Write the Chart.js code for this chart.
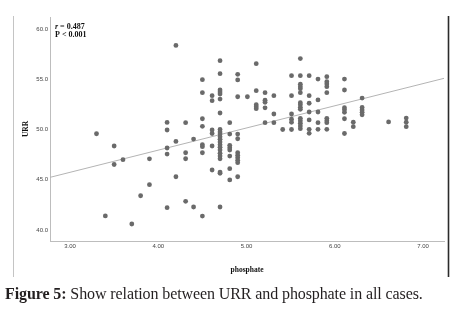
<!DOCTYPE html>
<html>
<head>
<meta charset="utf-8">
<script src="https://cdn.jsdelivr.net/npm/chart.js@4.4.1/dist/chart.umd.min.js"></script>
<style>
html,body{margin:0;padding:0;background:#fff;}
#wrap{position:relative;width:456px;height:322px;overflow:hidden;}
#c{position:absolute;left:0;top:0;}
#cap{position:absolute;left:5px;top:285px;font-family:"Liberation Serif","DejaVu Serif",serif;font-size:16px;letter-spacing:-0.1px;color:#231f20;white-space:nowrap;}
#cap b{font-weight:bold;}
</style>
</head>
<body>
<div id="wrap">
<canvas id="c" width="456" height="322"></canvas>
<div id="cap"><b>Figure 5:</b> Show relation between URR and phosphate in all cases.</div>
</div>
<script>
// ---- data ----
const phosphate = [
 3.30, 3.40, 3.50, 3.50, 3.60, 3.70, 3.80, 3.90, 3.90,
 4.10, 4.10, 4.10, 4.10, 4.10,
 4.20, 4.20, 4.20,
 4.31, 4.31, 4.31, 4.31,
 4.40, 4.40,
 4.50, 4.50, 4.50, 4.50, 4.50, 4.50, 4.50, 4.50,
 4.61, 4.61, 4.61, 4.61, 4.61, 4.61,
 4.70, 4.70, 4.70, 4.70, 4.70, 4.70, 4.70, 4.70, 4.70, 4.70, 4.70,
 4.70, 4.70, 4.70, 4.70, 4.70, 4.70, 4.70, 4.70, 4.70, 4.70, 4.70,
 4.81, 4.81, 4.81, 4.81, 4.81, 4.81, 4.81, 4.81,
 4.90, 4.90, 4.90, 4.90, 4.90, 4.90, 4.90, 4.90, 4.90, 4.90, 4.90,
 5.01,
 5.11, 5.11, 5.11, 5.11, 5.11,
 5.21, 5.21, 5.21, 5.21, 5.21,
 5.31, 5.31, 5.31,
 5.41,
 5.51, 5.51, 5.51, 5.51, 5.51, 5.51,
 5.61, 5.61, 5.61, 5.61, 5.61, 5.61, 5.61, 5.61, 5.61, 5.61, 5.61, 5.61, 5.61, 5.61, 5.61,
 5.71, 5.71, 5.71, 5.71, 5.71, 5.71, 5.71,
 5.81, 5.81, 5.81, 5.81, 5.81,
 5.91, 5.91, 5.91, 5.91, 5.91, 5.91, 5.91, 5.91, 5.91,
 6.11, 6.11, 6.11, 6.11, 6.11, 6.11, 6.11,
 6.21, 6.21,
 6.31, 6.31, 6.31, 6.31, 6.31,
 6.61,
 6.81, 6.81, 6.81
];
const urr = [
 49.58, 41.40, 48.36, 46.52, 47.00, 40.60, 43.41, 47.08, 44.51,
 50.70, 49.95, 48.16, 47.56, 42.22,
 58.36, 48.81, 45.30,
 50.68, 47.69, 47.09, 42.86,
 49.05, 42.29,
 54.96, 53.66, 51.07, 50.32, 48.49, 48.29, 47.69, 41.39,
 53.36, 52.87, 49.95, 49.60, 48.36, 45.97,
 56.85, 55.55, 53.93, 53.73, 53.53, 53.03, 51.64, 50.00, 49.75, 49.55, 49.28,
 49.02, 48.76, 48.49, 48.23, 47.96, 47.63, 47.36, 47.09, 45.77, 45.64, 42.29,
 50.68, 49.55, 48.43, 48.19, 47.96, 47.36, 46.10, 44.98,
 55.49, 54.93, 53.26, 49.55, 49.08, 47.69, 47.44, 47.19, 46.94, 46.70, 45.30,
 53.26,
 56.55, 53.86, 52.47, 52.27, 52.07,
 53.66, 52.91, 52.71, 52.16, 50.68,
 53.36, 51.54, 50.68,
 50.00,
 55.35, 53.36, 51.54, 51.02, 50.72, 50.00,
 57.05, 55.35, 54.50, 54.26, 54.06, 53.66, 52.67, 52.47, 52.21, 52.01, 51.11, 50.88, 50.62, 50.35, 50.08,
 55.35, 53.36, 52.61, 51.74, 50.95, 50.02, 49.62,
 55.02, 52.94, 51.74, 50.68, 50.02,
 55.25, 54.76, 54.53, 54.26, 53.66, 51.11, 50.88, 50.68, 50.02,
 55.02, 53.93, 52.17, 51.96, 51.71, 51.07, 49.60,
 50.72, 50.28,
 53.13, 52.19, 51.94, 51.71, 51.46,
 50.75,
 51.14, 50.72, 50.28
];
const fitX = [2.773, 7.238];
const fitY = [45.24, 55.09];
const xTicks = [3, 4, 5, 6, 7];
const yTicks = [40, 45, 50, 55, 60];
const statLines = ["r = 0.487", "P < 0.001"];

const points = phosphate.map((x, i) => ({x: x, y: urr[i]}));
const fitLine = fitX.map((x, i) => ({x: x, y: fitY[i]}));

const frame = {
  id: 'frame',
  afterDraw(chart) {
    const ctx = chart.ctx;
    ctx.save();
    ctx.strokeStyle = '#c4c4c4'; ctx.lineWidth = 1;
    ctx.beginPath(); ctx.moveTo(13.5, 16); ctx.lineTo(13.5, 277); ctx.stroke();
    ctx.strokeStyle = '#2b2b2b'; ctx.lineWidth = 1.6;
    ctx.beginPath(); ctx.moveTo(448.5, 16); ctx.lineTo(448.5, 277); ctx.stroke();
    // stats annotation
    ctx.fillStyle = '#111';
    ctx.textBaseline = 'alphabetic';
    ctx.font = 'italic bold 8px "Liberation Serif"';
    ctx.fillText(statLines[0].charAt(0), 55, 28.5);
    const w = ctx.measureText(statLines[0].charAt(0)).width;
    ctx.font = 'bold 8px "Liberation Serif"';
    ctx.fillText(statLines[0].slice(1), 55 + w, 28.5);
    ctx.fillText(statLines[1], 55, 36.5);
    ctx.restore();
  }
};

new Chart(document.getElementById('c'), {
  data: {
    datasets: [
      {type: 'line', data: fitLine, borderColor: '#b4b4b4', borderWidth: 1, pointRadius: 0, fill: false, order: 2},
      {type: 'scatter', data: points, backgroundColor: '#6a6a6a', borderWidth: 0, pointRadius: 2.4, order: 1}
    ]
  },
  options: {
    responsive: false,
    animation: false,
    devicePixelRatio: 1,
    layout: {padding: {left: 0, right: 12, top: 17, bottom: 0}},
    plugins: {legend: {display: false}, tooltip: {enabled: false}},
    scales: {
      x: {
        type: 'linear', min: 2.773, max: 7.238,
        afterBuildTicks: s => { s.ticks = xTicks.map(v => ({value: v})); },
        afterFit: s => { s.height = 81; },
        grid: {display: false, drawTicks: false},
        border: {display: true, color: '#bdbdbd', width: 1},
        ticks: {padding: 2, color: '#444', font: {family: 'Liberation Sans', size: 6}, callback: v => v.toFixed(2), maxRotation: 0, autoSkip: false},
        title: {display: true, text: 'phosphate', color: '#111', font: {family: 'Liberation Serif', size: 7.5, weight: 'bold'}, padding: {top: 0, bottom: 47.5}}
      },
      y: {
        type: 'linear', min: 38.91, max: 61.19,
        afterBuildTicks: s => { s.ticks = yTicks.map(v => ({value: v})); },
        afterFit: s => { s.width = 50; },
        grid: {display: false, drawTicks: false},
        border: {display: true, color: '#bdbdbd', width: 1},
        ticks: {padding: 2, color: '#444', font: {family: 'Liberation Sans', size: 6}, callback: v => v.toFixed(1), autoSkip: false},
        title: {display: true, text: 'URR', color: '#111', font: {family: 'Liberation Serif', size: 7.5, weight: 'bold'}, padding: {top: 21.5, bottom: 0}}
      }
    }
  },
  plugins: [frame]
});
</script>
</body>
</html>
